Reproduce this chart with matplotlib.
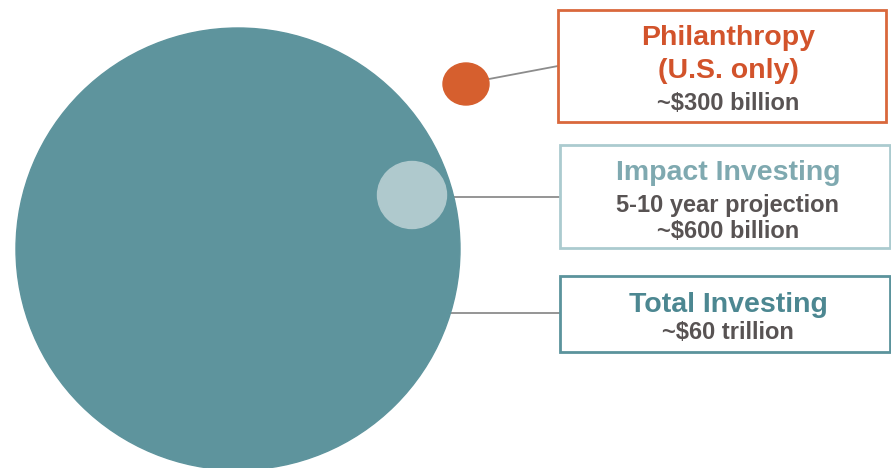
import matplotlib.pyplot as plt
from matplotlib.patches import Ellipse, Rectangle

plt.rcParams['font.family'] = ['Liberation Sans', 'DejaVu Sans']

# chart content
titles = ["Philanthropy\n(U.S. only)", "Impact Investing", "Total Investing"]
details = ["", "5-10 year projection", ""]
amounts = ["~$300 billion", "~$600 billion", "~$60 trillion"]

# colours
teal = "#5e949d"
light_teal = "#afc9cd"
orange = "#d65f2e"
title_colors = ["#d2532b", "#7fa9b0", "#4c8791"]
border_colors = ["#d9683c", "#abcbcf", "#5b939c"]
grey_text = "#585353"
line_grey = "#8c8c8c"

fig = plt.figure(figsize=(8.91, 4.68), dpi=100)
ax = fig.add_axes([0, 0, 1, 1])
ax.set_xlim(0, 891)
ax.set_ylim(468, 0)
ax.axis("off")

# connector lines (drawn first so circles sit on top)
ax.plot([489, 558], [79, 66], color=line_grey, lw=1.3, zorder=1)
ax.plot([440, 559], [197, 197], color=line_grey, lw=1.3, zorder=1)
ax.plot([440, 559], [313, 313], color=line_grey, lw=1.3, zorder=1)

# circles
ax.add_patch(Ellipse((238, 249), 444, 442, color=teal, zorder=2))
ax.add_patch(Ellipse((412, 195), 69, 67, color=light_teal, zorder=3))
ax.add_patch(Ellipse((466, 84), 46, 42, color=orange, zorder=3))

# boxes
boxes = [(558, 10, 328, 112), (560, 145, 330, 103), (560, 276, 330, 76)]
for (x, y, w, h), ec in zip(boxes, border_colors):
    ax.add_patch(Rectangle((x, y), w, h, fill=False, ec=ec, lw=2, zorder=4))

cx = 728
big = 20.5
small = 17

# Philanthropy
ax.text(cx, 45, titles[0].split("\n")[0], color=title_colors[0], fontsize=big,
        fontweight="bold", ha="center", va="baseline")
ax.text(cx, 78, titles[0].split("\n")[1], color=title_colors[0], fontsize=big,
        fontweight="bold", ha="center", va="baseline")
ax.text(cx, 110, amounts[0], color=grey_text, fontsize=small, fontweight="bold",
        ha="center", va="baseline")

# Impact investing
ax.text(cx, 180, titles[1], color=title_colors[1], fontsize=big,
        fontweight="bold", ha="center", va="baseline")
ax.text(cx, 212, details[1], color=grey_text, fontsize=small, fontweight="bold",
        ha="center", va="baseline")
ax.text(cx, 238, amounts[1], color=grey_text, fontsize=small, fontweight="bold",
        ha="center", va="baseline")

# Total investing
ax.text(cx, 312, titles[2], color=title_colors[2], fontsize=big,
        fontweight="bold", ha="center", va="baseline")
ax.text(cx, 339, amounts[2], color=grey_text, fontsize=small, fontweight="bold",
        ha="center", va="baseline")

fig.savefig("out.png", dpi=100)
